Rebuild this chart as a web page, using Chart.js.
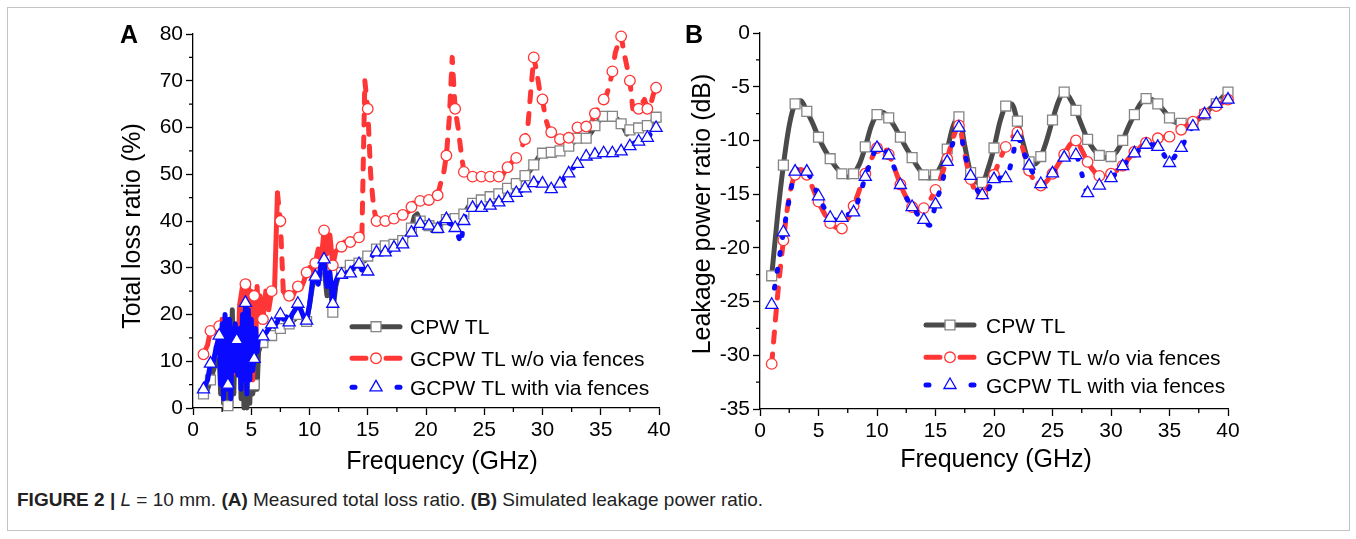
<!DOCTYPE html>
<html lang="en">
<head>
<meta charset="UTF-8">
<title>Total loss ratio / leakage power ratio</title>
<script src="https://cdn.jsdelivr.net/npm/chart.js"></script>
<style>
  body { margin: 0; background: #fff; }
  #fig { position: relative; width: 1356px; height: 539px; overflow: hidden; background: #fff; }
  #frame { position: absolute; left: 7px; top: 7px; width: 1341px; height: 522px; border: 1px solid #c4c4c4; }
  canvas { position: absolute; }
  #chartA { left: 100px; top: 10px; }
  #chartB { left: 667px; top: 10px; }
  #caption { position: absolute; left: 17px; top: 489px; font-size: 19px; color: #222;
             font-family: "Liberation Sans Narrow", "Arial Narrow", "Liberation Sans", sans-serif; white-space: nowrap; }
  #caption b { font-weight: bold; }
</style>
</head>
<body>
<div id="fig">
  <div id="frame"></div>
  <canvas id="chartA" width="590" height="470"></canvas>
  <canvas id="chartB" width="590" height="470"></canvas>
  <div id="caption"><b>FIGURE 2 |</b> <i>L</i> = 10 mm. <b>(A)</b> Measured total loss ratio. <b>(B)</b> Simulated leakage power ratio.</div>
</div>
<script>
// ---- panel A : measured total loss ratio (%) ----
const freqA = [
  0.9, 1.25, 1.5, 1.75, 2, 2.25,
  2.375, 2.5, 2.625, 2.75, 2.875, 3, 3.125, 3.25,
  3.375, 3.5, 3.625, 3.75, 3.875, 4, 4.125, 4.25,
  4.375, 4.5, 4.625, 4.75, 4.875, 5, 5.125, 5.25,
  5.375, 5.5, 5.625, 5.75,
  6, 6.25, 6.5, 6.75, 7, 7.25, 7.5, 7.75,
  8, 8.25, 8.5, 8.75, 9, 9.25, 9.5, 9.75,
  10, 10.25, 10.5, 10.75, 11, 11.25, 11.5, 11.75,
  12, 12.25, 12.5, 12.75, 13, 13.25, 13.5, 13.75,
  14, 14.25, 14.5, 14.75, 15, 15.25, 15.5, 15.75,
  16, 16.25, 16.5, 16.75, 17, 17.25, 17.5, 17.75,
  18, 18.25, 18.5, 18.75, 19, 19.25, 19.5, 19.75,
  20, 20.25, 20.5, 20.75, 21, 21.25, 21.5, 21.75,
  22, 22.25, 22.5, 22.75, 23, 23.25, 23.5, 23.75,
  24, 24.25, 24.5, 24.75, 25, 25.25, 25.5, 25.75,
  26, 26.25, 26.5, 26.75, 27, 27.25, 27.5, 27.75,
  28, 28.25, 28.5, 28.75, 29, 29.25, 29.5, 29.75,
  30, 30.25, 30.5, 30.75, 31, 31.25, 31.5, 31.75,
  32, 32.25, 32.5, 32.75, 33, 33.25, 33.5, 33.75,
  34, 34.25, 34.5, 34.75, 35, 35.25, 35.5, 35.75,
  36, 36.25, 36.5, 36.75, 37, 37.25, 37.5, 37.75,
  38, 38.25, 38.5, 38.75, 39, 39.25, 39.5, 39.75,
  40
];
const cpwA = [
  3, 4, 6, 8, 10, 12,
  3, 15, 1, 19, 2, 0.5, 18, 0,
  21, 3, 16, 13, 8, 17, 2, 19,
  0, 20, 0, 18, 1, 14, 3, 5,
  10, 4, 12, 13,
  14, 14.5, 15, 15.5, 16, 16.5, 17, 17.5,
  18, 18, 18.5, 19, 20, 19.5, 19, 18.5,
  22, 26, 28, 27, 30.5, 30, 24, 27,
  20.5, 26, 28.5, 29, 29.5, 30, 30.5, 31,
  31, 31, 31.5, 31.5, 32.5, 33, 33.5, 34,
  34.5, 34.5, 34.7, 35, 35.3, 35, 35.3, 35.5,
  35.8, 36.5, 37, 38.5, 41, 41.5, 40, 39,
  39, 39, 38.1, 38.5, 38.5, 39.5, 40, 40.3,
  40.5, 40.8, 40.5, 39.5, 40.5, 41.5, 42.5, 43.5,
  43.8, 44, 44, 44.5, 44.5, 45, 45.2, 45.5,
  45.8, 45.8, 46.3, 46.8, 47, 47.5, 48, 48,
  48.5, 49, 49.7, 50.2, 51, 52, 53, 54,
  54.5, 54.5, 54.5, 54.7, 54.7, 55, 55, 55.2,
  55.6, 56, 56.5, 57, 57.7, 57.8, 57.8, 57.7,
  58.3, 59.2, 60.4, 61.2, 61.8, 62.4, 62.5, 62.5,
  62.4, 62.2, 61.6, 60.8, 59.8, 58.6, 59.5, 59.6,
  59.8, 59.9, 60, 60.2, 60.4, 60.8, 61.5, 62.2,
  61.5
];
const woFenceA = [
  11.5, 13.5, 16.5, 17, 16.5, 17.5,
  12, 19, 9, 18, 8, 15, 10, 17,
  7, 16, 9, 16, 12, 22, 24, 26,
  18, 26.5, 14, 27, 8, 25, 6, 24,
  12, 26, 20, 24,
  19, 25, 21, 25, 25.5, 46, 40, 25,
  24, 24, 23.5, 25, 26, 25.5, 27, 29,
  30, 28.5, 31, 34, 31.5, 38, 33, 37,
  30.5, 33.5, 34, 34.5, 35.5, 35, 35.5, 36,
  36, 36.5, 37, 70, 64, 50, 43, 40,
  40, 40, 40, 40, 40, 40.5, 41, 41,
  41.3, 41.5, 42, 43, 44.5, 45, 44.3, 44.3,
  44, 44.5, 44.5, 45, 45.5, 48, 50, 54,
  62, 75, 64, 60, 55, 50.5, 50, 49.5,
  49.5, 49.5, 49.5, 49.5, 49.5, 49.5, 49.5, 49.5,
  49.5, 49.5, 49.5, 50.5, 51.5, 52.2, 53, 53.5,
  54.5, 56, 57.5, 60.5, 68, 75, 72, 68,
  66, 62, 60, 59, 58.5, 57.5, 57.5, 57.5,
  57.5, 57.8, 58.5, 59.5, 60, 60, 60, 60.2,
  60.5, 61.5, 63, 64, 65, 66, 67, 69,
  72, 76, 78, 79.5, 76, 73, 70, 64,
  64, 64, 65, 66, 64, 64.5, 67, 68.5,
  67
];
const withFenceA = [
  4, 6, 9.5, 10, 13, 15.5,
  5, 18, 2, 20, 4, 5, 19, 2,
  17, 8, 18, 14.5, 7, 17, 4, 20,
  6, 22.5, 3, 21, 6, 19, 8, 10.5,
  17, 12, 15, 15,
  15.3, 16, 17, 17.9, 17.5, 18.5, 20, 19,
  19.5, 18.3, 20, 21, 22.3, 21, 19.5, 18.7,
  22, 27, 28.1, 26.5, 31, 31.8, 26, 29,
  22.3, 27, 28.5, 28.5, 28.5, 29, 28.8, 30,
  30.5, 30.8, 29.5, 29.5, 29.2, 32, 33, 33.3,
  33.5, 33.3, 33.3, 33.5, 33.7, 34.3, 35, 35,
  35, 35.5, 36, 37.5, 39, 39.4, 39.4, 39,
  39, 39, 38.5, 38.3, 38.3, 39.5, 40.4, 40.4,
  39.5, 39.2, 38.5, 37, 35, 40, 42.4, 42.6,
  42.8, 42.8, 42.8, 42.8, 42.8, 43, 43.3, 43.5,
  43.8, 44, 44, 44.5, 44.9, 45.2, 45.6, 46,
  46.3, 46.6, 47, 47.5, 48, 48.1, 48.1, 48,
  48, 47.5, 46.5, 46.8, 46.8, 47.5, 48, 48.8,
  49.5, 50.2, 51, 51.7, 52.2, 53, 53.5, 53.8,
  54, 54, 54.2, 54.3, 54.5, 54.5, 54.5, 54.5,
  54.5, 54.6, 54.8, 54.9, 55.3, 55.6, 56, 56.5,
  56.8, 57, 57.3, 57.6, 57.8, 58.5, 59.3, 59.9,
  59.9
];

// ---- panel B : simulated leakage power ratio (dB) ----
const freqB = [
  1, 1.5, 2, 2.5, 3, 3.5, 4, 4.5, 5, 5.5, 6, 6.5, 7, 7.5, 8, 8.5, 9, 9.5, 10, 10.5,
  11, 11.5, 12, 12.5, 13, 13.5, 14, 14.5, 15, 15.5, 16, 16.5, 17, 17.5, 18, 18.5, 19, 19.5, 20, 20.5,
  21, 21.5, 22, 22.5, 23, 23.5, 24, 24.5, 25, 25.5, 26, 26.5, 27, 27.5, 28, 28.5, 29, 29.5, 30, 30.5,
  31, 31.5, 32, 32.5, 33, 33.5, 34, 34.5, 35, 35.5, 36, 36.5, 37, 37.5, 38, 38.5, 39, 39.5, 40
];
const cpwB = [
  -22.6, -17, -12.3, -8.6, -6.6, -6.3, -7.3, -8.4, -9.7, -10.8, -11.7, -12.5, -13.1, -13.4, -13.1, -12.2, -10.6, -8.7, -7.6, -7.4,
  -7.9, -8.7, -9.7, -10.7, -11.6, -12.5, -13.2, -13.5, -13.2, -12.3, -10.8, -8.7, -7.8, -10.5, -13.0, -13.9, -13.9, -12.6, -10.7, -8.3,
  -6.8, -6.6, -8.2, -10.3, -12.0, -12.2, -11.5, -10.0, -8.1, -6.4, -5.5, -6.1, -7.2, -8.6, -9.9, -10.8, -11.4, -11.6, -11.5, -11.0,
  -10.0, -8.7, -7.6, -6.6, -6.1, -6.2, -6.6, -7.2, -7.9, -8.3, -8.4, -8.5, -8.4, -8.0, -7.6, -7.0, -6.6, -6.0, -5.5
];
const woFenceB = [
  -30.8, -24.5, -19.3, -15.2, -13.2, -12.7, -13.2, -14.4, -15.7, -16.8, -17.7, -18.1, -18.2, -17.3, -16.1, -14.6, -13.1, -11.8, -10.7, -10.6,
  -11.3, -12.6, -14.1, -15.3, -16.2, -16.5, -16.3, -15.6, -14.6, -13.3, -11.7, -9.8, -8.6, -11.3, -13.6, -14.8, -15.0, -14.3, -13.2, -11.8,
  -10.6, -9.8, -9.25, -10.9, -12.8, -13.8, -14.2, -13.8, -13.1, -12.2, -11.3, -10.4, -10.0, -10.9, -12.0, -12.8, -13.3, -13.3, -13.1, -12.8,
  -12.35, -11.7, -11.05, -10.6, -10.2, -10.0, -9.8, -9.7, -9.65, -9.4, -9.0, -8.6, -8.25, -7.9, -7.48, -7.1, -6.8, -6.5, -6.2
];
const withFenceB = [
  -25.3, -22, -18.55, -15.5, -12.9, -12.6, -12.9, -13.9, -15.2, -16.3, -17.2, -17.4, -17.2, -16.9, -16.7, -15.2, -13.4, -11.9, -10.7, -10.8,
  -11.4, -12.6, -14.15, -15.3, -16.2, -16.9, -17.4, -17.9, -15.95, -14.2, -12.0, -10.2, -8.8, -11.2, -13.3, -14.5, -15.1, -14.6, -13.6, -13.5,
  -13.5, -12.0, -9.7, -11.0, -12.35, -13.3, -14.06, -13.7, -13.07, -12.3, -11.6, -11.3, -11.36, -13.1, -14.9, -14.6, -14.2, -13.9, -13.5, -13.0,
  -12.4, -11.8, -11.2, -10.8, -10.4, -10.4, -10.6, -11.3, -12.1, -11.4, -10.7, -9.6, -8.7, -8.1, -7.57, -7.1, -6.6, -6.4, -6.2
];

const seriesNames = ['CPW TL', 'GCPW TL w/o via fences', 'GCPW TL with via fences'];
const xTicks = [0, 5, 10, 15, 20, 25, 30, 35, 40];

[[freqA, cpwA], [freqA, woFenceA], [freqA, withFenceA], [freqB, cpwB], [freqB, woFenceB], [freqB, withFenceB]].forEach(([f, v], i) => {
  if (f.length !== v.length) throw new Error('length mismatch in series ' + i + ': ' + f.length + ' vs ' + v.length);
});

const FONT = '"Liberation Sans", Arial, sans-serif';
Chart.defaults.font.family = FONT;
Chart.defaults.color = '#000';

const GRAY = '#4a4a4a', GRAY_MK = '#858585', RED = '#ff3636', BLUE = '#0a0aff';

function pts(xs, ys) { return xs.map((x, i) => ({ x: x, y: ys[i] })); }

// markers only every "step" GHz (and on the first sample)
function markerAt(step, r) {
  return ctx => {
    if (ctx.type !== 'data') return r;
    const k = ctx.raw.x / step;
    return (ctx.dataIndex === 0 || Math.abs(k - Math.round(k)) < 1e-6) ? r : 0;
  };
}

// the measured curves are so noisy in some bands that the dash pattern closes up
function dashOutside(xs, solid, dash) {
  return ctx => {
    const x = xs[ctx.p1DataIndex];
    return solid.some(r => x > r[0] && x <= r[1]) ? [] : dash;
  };
}

function makeSets(xs, cpw, wo, wi, step, smooth, solidRed, solidBlue) {
  const common = { borderWidth: 5, borderJoinStyle: 'round', pointBackgroundColor: '#fff', pointBorderWidth: 1.3,
                   pointHoverRadius: 0, clip: false, fill: false,
                   tension: smooth ? 0.4 : 0, cubicInterpolationMode: smooth ? 'monotone' : 'default' };
  const redDash = [10, 12], blueDash = [2, 15];
  return [
    Object.assign({}, common, { label: seriesNames[0], data: pts(xs, cpw), order: 3, borderColor: GRAY,
      borderCapStyle: 'round', pointStyle: 'rect', pointRadius: markerAt(step, 7), pointBorderColor: GRAY_MK }),
    Object.assign({}, common, { label: seriesNames[1], data: pts(xs, wo), order: 2, borderColor: RED,
      borderDash: redDash, borderCapStyle: 'round', pointStyle: 'circle', pointRadius: markerAt(step, 5.3), pointBorderColor: RED,
      segment: { borderDash: dashOutside(xs, solidRed, redDash) } }),
    Object.assign({}, common, { label: seriesNames[2], data: pts(xs, wi), order: 1, borderColor: BLUE,
      borderDash: blueDash, borderCapStyle: 'round', pointStyle: 'triangle', pointRadius: markerAt(step, 7), pointBorderColor: BLUE,
      segment: { borderDash: dashOutside(xs, solidBlue, blueDash) } })
  ];
}

// minor ticks halfway between the major ones
const minorTicks = {
  id: 'minorTicks',
  afterDraw(chart, args, o) {
    const ctx = chart.ctx, xs = chart.scales.x, ys = chart.scales.y;
    ctx.save();
    ctx.strokeStyle = '#000';
    ctx.lineWidth = 1.3;
    ctx.beginPath();
    for (let v = xs.min + o.xStep / 2; v < xs.max; v += o.xStep) {
      const p = xs.getPixelForValue(v);
      ctx.moveTo(p, xs.top); ctx.lineTo(p, xs.top + o.len);
    }
    for (let v = ys.min + o.yStep / 2; v < ys.max; v += o.yStep) {
      const p = ys.getPixelForValue(v);
      ctx.moveTo(ys.right, p); ctx.lineTo(ys.right - o.len, p);
    }
    ctx.stroke();
    ctx.restore();
  }
};

// panel letter, axis titles and the legend
const overlay = {
  id: 'overlay',
  afterDraw(chart, args, o) {
    const ctx = chart.ctx;
    ctx.save();
    ctx.fillStyle = '#000';
    ctx.textBaseline = 'alphabetic';
    o.texts.forEach(t => {
      ctx.save();
      ctx.font = t.font;
      ctx.textAlign = t.align || 'center';
      ctx.translate(t.x, t.y);
      if (t.rot) ctx.rotate(-Math.PI / 2);
      ctx.fillText(t.text, 0, 0);
      ctx.restore();
    });
    const L = o.legend;
    chart.data.datasets.forEach((ds, i) => {
      const y = L.rows[i];
      ctx.save();
      ctx.strokeStyle = ds.borderColor;
      ctx.lineWidth = 5;
      ctx.lineCap = 'round';
      ctx.beginPath();
      if (i === 0) {
        ctx.moveTo(L.x0, y); ctx.lineTo(L.x1, y);
      } else {
        const seg = i === 1 ? 14 : 3;
        ctx.moveTo(L.x0, y); ctx.lineTo(L.x0 + seg, y);
        ctx.moveTo(L.x1 - seg, y); ctx.lineTo(L.x1, y);
      }
      ctx.stroke();
      ctx.fillStyle = '#fff';
      ctx.strokeStyle = ds.pointBorderColor;
      ctx.lineWidth = 1.3;
      const r = i === 1 ? 5.3 : 7;
      Chart.helpers.drawPoint(ctx, { pointStyle: ds.pointStyle, radius: r, rotation: 0, borderWidth: 1.3 }, (L.x0 + L.x1) / 2, y);
      ctx.fillStyle = '#000';
      ctx.font = '21px ' + FONT;
      ctx.textAlign = 'left';
      ctx.fillText(ds.label, L.xt, y + 7.5);
      ctx.restore();
    });
    ctx.restore();
  }
};

function axisX(h) {
  return { type: 'linear', min: 0, max: 40,
    ticks: { stepSize: 5, font: { size: 21 }, color: '#000', padding: 3, maxRotation: 0,
             callback: v => xTicks.includes(v) ? String(v) : '' },
    grid: { display: true, drawOnChartArea: false, drawTicks: true, tickLength: 7, tickColor: '#000', tickWidth: 1.3 },
    border: { display: true, color: '#000', width: 1.3 },
    afterFit: s => { s.height = h; } };
}
function axisY(min, max, step, w) {
  return { type: 'linear', min: min, max: max,
    ticks: { stepSize: step, font: { size: 21 }, color: '#000', padding: 3 },
    grid: { display: true, drawOnChartArea: false, drawTicks: true, tickLength: 7, tickColor: '#000', tickWidth: 1.3 },
    border: { display: true, color: '#000', width: 1.3 },
    afterFit: s => { s.width = w; } };
}

function build(id, sets, yAxis, xH, pad, minor, over) {
  return new Chart(document.getElementById(id), {
    type: 'line',
    data: { datasets: sets },
    plugins: [minorTicks, overlay],
    options: {
      responsive: false, animation: false, devicePixelRatio: 1, events: [],
      layout: { padding: pad },
      scales: { x: axisX(xH), y: yAxis },
      plugins: { legend: { display: false }, tooltip: { enabled: false }, minorTicks: minor, overlay: over }
    }
  });
}

build('chartA', makeSets(freqA, cpwA, woFenceA, withFenceA, 0.75, false, [[0, 7.25], [7.75, 14.5]], [[0, 15]]),
  axisY(0, 80, 10, 93), 72, { top: 24, right: 31, left: 0, bottom: 0 },
  { xStep: 5, yStep: 10, len: 4 },
  { texts: [
      { text: 'A', x: 29, y: 33, font: 'bold 25px ' + FONT },
      { text: 'Total loss ratio (%)', x: 40, y: 216, rot: true, font: '25px ' + FONT },
      { text: 'Frequency (GHz)', x: 342, y: 459, font: '25px ' + FONT }
    ],
    legend: { x0: 252, x1: 300, xt: 310, rows: [316.7, 348.3, 377.3] } });

build('chartB', makeSets(freqB, cpwB, woFenceB, withFenceB, 1, true, [], []),
  axisY(-35, 0, 5, 93), 71, { top: 23, right: 29, left: 0, bottom: 0 },
  { xStep: 5, yStep: 5, len: 4 },
  { texts: [
      { text: 'B', x: 27, y: 33, font: 'bold 25px ' + FONT },
      { text: 'Leakage power ratio (dB)', x: 43, y: 204, rot: true, font: '25px ' + FONT },
      { text: 'Frequency (GHz)', x: 329, y: 457, font: '25px ' + FONT }
    ],
    legend: { x0: 259, x1: 307, xt: 319, rows: [315, 347.3, 375] } });
</script>
</body>
</html>
